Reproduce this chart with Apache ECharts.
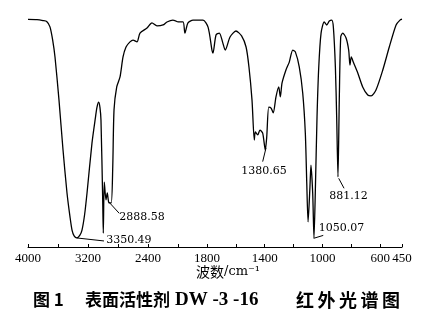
<!DOCTYPE html>
<html><head><meta charset="utf-8">
<script src="https://cdn.jsdelivr.net/npm/echarts@6/dist/echarts.min.js"></script>
<style>html,body{margin:0;padding:0;background:#fff}#c{width:432px;height:310px}</style>
</head><body><div id="c"></div>
<script>
// Wavenumber (cm-1) and relative transmittance (%)
const waveNumbers = [4000,3880,3800,3751,3707,3670,3640,3587,3533,3480,3440,3413,3385,3350,3310,3280,3245,3213,3147,3100,3080,3057,3040,3027,3004,2996,2983,2960,2943,2920,2890,2870,2853,2817,2773,2733,2693,2640,2600,2547,2507,2413,2347,2280,2200,2147,2067,2000,
1965,1952,1931,1896,1827,1792,1765,1758,1737,1714,1690,1673,1640,1599,1560,1529,1509,1488,1472,1465,1448,1433,1414,1396,1386,1372,1356,1341,1322,1303,1292,1280,1253,1230,1206,1188,1161,1137,1119,1109,1100,1087,1080,1068,1059,1050,1038,1026,1010,988,971,953,936,925,911,902,893,884,874,860,837,819,810,801,787,756,722,687,664,630,583,538,491,464,450];
const transmittance = [98.1,98.0,97.6,97.2,94.9,89,81.9,63.4,41.8,23.3,13,7.3,4.8,3.9,5,7.3,14,23.3,44.8,56,60.3,62.4,60,54.7,20.3,6.0,28.0,20.3,23.3,19.0,19.0,34.5,59.1,69.0,73.3,81.9,86.2,88.4,89.2,88.4,92.2,94.4,96.6,95.3,95.7,97.0,97.8,97.0,
97.0,92.2,96.6,97.8,97.8,94.8,84.9,83.6,91.4,92.2,88,84.9,90.5,93.1,91,86.2,77.6,63.4,46.1,49.6,48.3,50.4,49.1,41.8,47.4,60.3,59.9,57.8,64.7,69.0,64.7,70.7,76.3,79.7,84.9,84.1,77.6,66.4,49.1,27.6,10.8,25.9,35.3,23.3,3.9,23.3,56.0,77.6,92.2,97.0,95.7,97.4,97.8,94.8,77.6,56.0,30.2,63.4,90.6,92.2,90.1,84.9,78.4,81.9,79.7,75.0,69.0,65.5,65.1,67.7,76.3,86.2,95.7,97.8,98.2];

const ticksHigh = [4000,3600,3200,2800,2400,2000];
const labelsHigh = [4000,3200,2400];
const ticksLow = [1800,1600,1400,1200,1000,800,600,450];
const labelsLow = [1800,1400,1000,600,450];
const peakTexts = ['3350.49','2888.58','1380.65','1050.07','881.12'];
const titleChars = ['红','外','光','谱','图'];

// annotation layout (text anchor and leader line, in data units)
const annotations = [
  {grid:0, text:peakTexts[0], at:[2655,2.8], line:[[3350,3.9],[2987,2.6]]},
  {grid:0, text:peakTexts[1], at:[2480,12.9], line:[[2933,19.8],[2783,14.5]]},
  {grid:1, text:peakTexts[2], at:[1405,32.8], line:[[1391,42.7],[1414,36.8]]},
  {grid:1, text:peakTexts[3], at:[869,8.2], line:[[1061,3.75],[995,5.0]]},
  {grid:1, text:peakTexts[4], at:[820,22.0], line:[[888,29.6],[851,25.3]]}
];

const pairs = waveNumbers.map((w,i)=>[w,transmittance[i]]);
const high = pairs.filter(p=>p[0]>=2000);
const low = pairs.filter(p=>p[0]<=2000);

function xAxis(gi,min,max,ticks,labels){
  return {type:'value', gridIndex:gi, min:min, max:max, inverse:true,
    axisLine:{show:true, lineStyle:{color:'#000', width:1}},
    axisTick:{show:true, inside:true, length:3, customValues:ticks, lineStyle:{color:'#000'}},
    axisLabel:{show:true, margin:5, customValues:labels, hideOverlap:false,
      formatter:v=>String(v), color:'#000', fontFamily:'Liberation Serif', fontSize:13},
    splitLine:{show:false}};
}
function yAxis(gi){
  return {type:'value', gridIndex:gi, min:0, max:100, show:false};
}
function series(gi,data){
  const ann = annotations.filter(a=>a.grid===gi);
  return {type:'line', xAxisIndex:gi, yAxisIndex:gi, data:data, showSymbol:false, smooth:0.25,
    lineStyle:{color:'#000', width:1.3}, silent:true, animation:false,
    markLine:{silent:true, symbol:['none','none'], animation:false,
      lineStyle:{color:'#000', width:1, type:'solid'}, label:{show:false},
      data:ann.map(a=>[{coord:a.line[0]},{coord:a.line[1]}])},
    markPoint:{silent:true, animation:false, symbol:'rect', symbolSize:1, itemStyle:{color:'rgba(0,0,0,0)'},
      label:{show:true, position:'inside', color:'#000', fontFamily:'DejaVu Serif', fontSize:11, formatter:p=>p.name},
      data:ann.map(a=>({name:a.text, coord:a.at}))}
  };
}

const graphics = [
  {type:'text', style:{x:224, y:272, text:'波数', align:'right', verticalAlign:'middle', fill:'#000', font:'14px "Noto Sans CJK SC"'}},
  {type:'text', style:{x:224, y:272, text:'/cm⁻¹', align:'left', verticalAlign:'middle', fill:'#000', font:'13px "DejaVu Serif"'}},
  {type:'text', style:{x:33, y:300, text:'图 1', align:'left', verticalAlign:'middle', fill:'#000', font:'bold 17px "Noto Sans CJK SC"'}},
  {type:'text', style:{x:85, y:300, text:'表面活性剂', align:'left', verticalAlign:'middle', fill:'#000', font:'bold 17px "Noto Sans CJK SC"'}},
  {type:'text', style:{x:175, y:300, text:'DW -3 -16', align:'left', verticalAlign:'middle', fill:'#000', font:'bold 19px "Liberation Serif"'}}
];
titleChars.forEach((ch,i)=>graphics.push({type:'text', style:{x:296+i*21.5, y:300, text:ch, align:'left', verticalAlign:'middle', fill:'#000', font:'bold 18px "Noto Sans CJK SC"'}}));

const chart = echarts.init(document.getElementById('c'), null, {renderer:'canvas'});
chart.setOption({
  animation:false,
  backgroundColor:'#fff',
  grid:[{left:28, width:150, top:15, height:232},{left:178, width:224, top:15, height:232}],
  xAxis:[xAxis(0,2000,4000,ticksHigh,labelsHigh), xAxis(1,450,2000,ticksLow,labelsLow)],
  yAxis:[yAxis(0), yAxis(1)],
  series:[series(0,high), series(1,low)],
  graphic:graphics
});
</script></body></html>
